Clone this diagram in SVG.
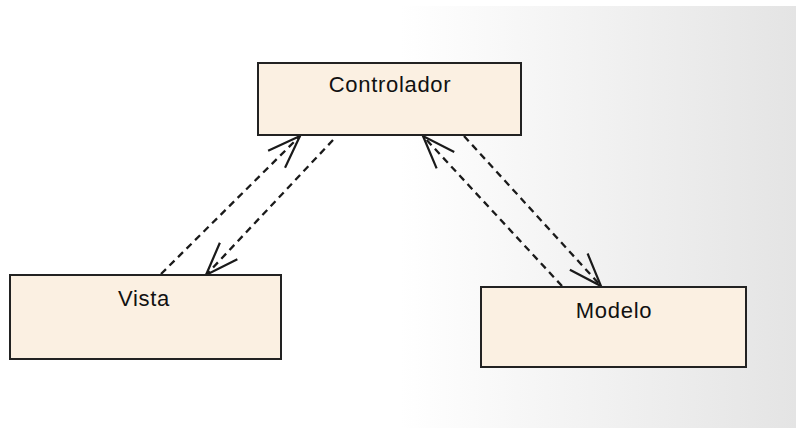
<svg xmlns="http://www.w3.org/2000/svg" width="796" height="428" viewBox="0 0 796 428">
<defs>
<linearGradient id="bg" gradientUnits="userSpaceOnUse" x1="400" y1="0" x2="796" y2="0">
<stop offset="0" stop-color="#ffffff"/>
<stop offset="1" stop-color="#e4e4e4"/>
</linearGradient>
<marker id="open" markerUnits="userSpaceOnUse" markerWidth="40" markerHeight="30" viewBox="-36 -15 40 30" refX="0" refY="0" orient="auto" overflow="visible">
<path d="M-33,-12 L0,0 L-33,12" fill="none" stroke="#1a1a1a" stroke-width="2.2"/>
</marker>
<style>
.box{fill:#fbf0e2;stroke:#222;stroke-width:2}
.lbl{font-family:"Liberation Sans",Arial,sans-serif;font-size:22px;letter-spacing:0.7px;fill:#111;text-anchor:middle}
.dep{fill:none;stroke:#1a1a1a;stroke-width:2.3;stroke-dasharray:7,5;marker-end:url(#open)}
</style>
</defs>
<rect x="0" y="0" width="796" height="428" fill="#fff"/>
<rect x="0" y="6" width="796" height="422" fill="url(#bg)"/>
<g id="connectors">
<line class="dep" x1="161" y1="274" x2="300" y2="136"/>
<line class="dep" x1="333" y1="140" x2="206" y2="275"/>
<line class="dep" x1="562" y1="286" x2="423" y2="136"/>
<line class="dep" x1="464" y1="136" x2="601" y2="286"/>
</g>
<g id="controlador">
<rect class="box" x="258" y="63" width="263" height="72"/>
<text class="lbl" x="390" y="92">Controlador</text>
</g>
<g id="vista">
<rect class="box" x="10" y="275" width="271" height="84"/>
<text class="lbl" x="144" y="306">Vista</text>
</g>
<g id="modelo">
<rect class="box" x="481" y="287" width="265" height="80"/>
<text class="lbl" x="614" y="318">Modelo</text>
</g>
</svg>
